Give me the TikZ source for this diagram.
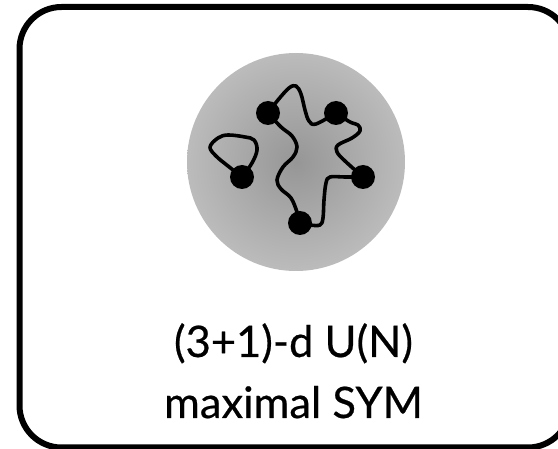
\documentclass[tikz,border=0pt]{standalone}
\usepackage{fontspec}
\setmainfont{Lato}[FakeBold=0.5]
\definecolor{ballin}{RGB}{150,150,150}
\definecolor{ballmid}{RGB}{192,192,192}
\definecolor{ballout}{RGB}{220,220,220}
\pgfdeclareradialshading{ballshade}{\pgfpoint{0bp}{0bp}}{color(0bp)=(ballin); color(28bp)=(ballmid); color(50bp)=(ballout)}

\begin{document}
\begin{tikzpicture}[x=1pt, y=-1pt, font=\fontsize{43.5}{52}\selectfont,
  strand/.style={line width=3.6pt, line cap=round, line join=round},
  bead/.style={circle, fill=black, inner sep=0pt, minimum size=24pt}]
  \useasboundingbox (0,0) rectangle (558,449);
  \clip (0,0) rectangle (558,449);

  \draw[line width=6pt, rounded corners=42pt] (19.5,7) rectangle (570,447.5);

  \shade[shading=ballshade] (296,162) circle (109);

  \node[bead] (a) at (268,113) {};
  \node[bead] (b) at (336,113) {};
  \node[bead] (c) at (363,177) {};
  \node[bead] (d) at (300,223) {};
  \node[bead] (e) at (242,177) {};

  \draw[strand] plot[smooth, tension=0.6] coordinates {(a) (278,100) (289,88) (296,86) (301,94) (305,110) (309,121) (316,124) (b)};
  \draw[strand] plot[smooth, tension=0.6] coordinates {(b) (350,122) (358,125) (360,131) (352,138) (338,145) (337,152) (345,161) (c)};
  \draw[strand] plot[smooth, tension=0.6] coordinates {(c) (345,177) (330,177) (326,183) (324,200) (323,218) (320,225) (310,225) (d)};
  \draw[strand] plot[smooth, tension=0.6] coordinates {(d) (297,212) (291,198) (281,189) (277,180) (283,167) (293,157) (297,147) (292,136) (281,127) (a)};
  \draw[strand] plot[smooth, tension=0.6] coordinates {(e) (252,163) (257,150) (254,140) (245,137) (228,135) (218,138) (210,147) (216,156) (228,166) (e)};

  \node[anchor=base] (title) at (293.5,357) {(3+1)-d U(N)};
  \node[anchor=base] (subtitle) at (293.5,418) {maximal SYM};
\end{tikzpicture}
\end{document}
